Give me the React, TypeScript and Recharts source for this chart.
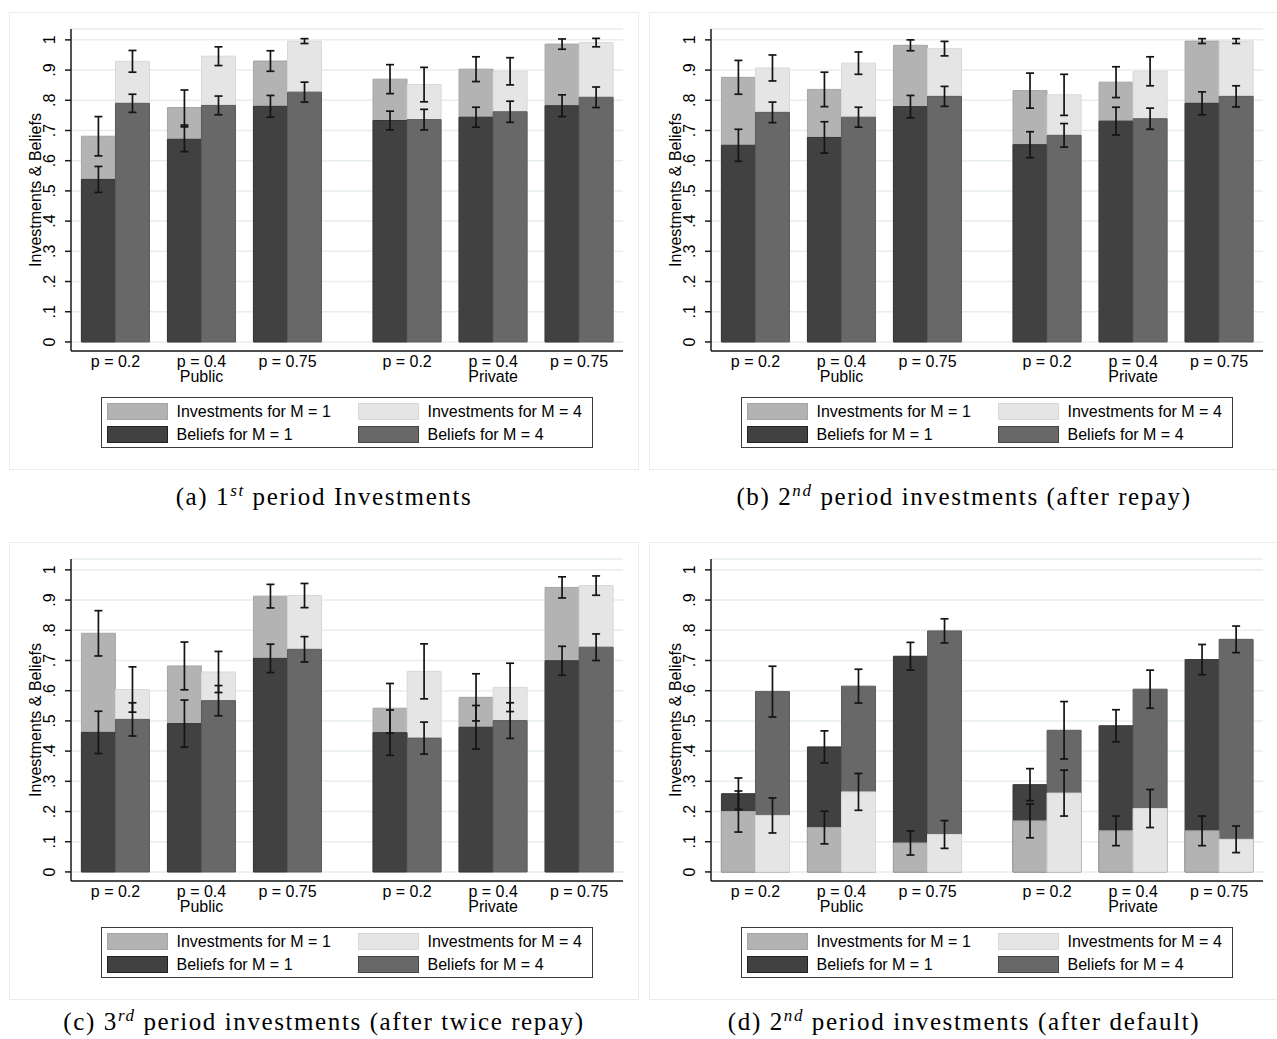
import React from 'react';
import { BarChart, Bar, XAxis, YAxis, CartesianGrid, ErrorBar, Cell, Legend } from 'recharts';

const P_LABELS = ['p = 0.2', 'p = 0.4', 'p = 0.75', 'p = 0.2', 'p = 0.4', 'p = 0.75'];
const TREATMENT_LABELS = ['', 'Public', '', '', 'Private', ''];
const Y_TICKS = [0, 0.1, 0.2, 0.3, 0.4, 0.5, 0.6, 0.7, 0.8, 0.9, 1];
const LEGEND_LABELS = ['Investments for M = 1', 'Investments for M = 4', 'Beliefs for M = 1', 'Beliefs for M = 4'];

// (a) 1st period investments
const A_INV_M1 = [0.681, 0.776, 0.93, 0.87, 0.903, 0.986];
const A_INV_M1_ERR = [0.065, 0.058, 0.034, 0.048, 0.041, 0.017];
const A_BEL_M1 = [0.538, 0.671, 0.78, 0.733, 0.744, 0.782];
const A_BEL_M1_ERR = [0.043, 0.041, 0.036, 0.031, 0.033, 0.036];
const A_INV_M4 = [0.929, 0.946, 0.996, 0.852, 0.896, 0.991];
const A_INV_M4_ERR = [0.036, 0.031, 0.008, 0.057, 0.045, 0.014];
const A_BEL_M4 = [0.79, 0.783, 0.827, 0.736, 0.762, 0.81];
const A_BEL_M4_ERR = [0.03, 0.031, 0.033, 0.034, 0.035, 0.034];

// (b) 2nd period, after repay
const B_INV_M1 = [0.876, 0.836, 0.982, 0.832, 0.86, 0.996];
const B_INV_M1_ERR = [0.056, 0.057, 0.018, 0.058, 0.051, 0.008];
const B_BEL_M1 = [0.651, 0.677, 0.779, 0.653, 0.731, 0.79];
const B_BEL_M1_ERR = [0.053, 0.052, 0.037, 0.043, 0.046, 0.038];
const B_INV_M4 = [0.907, 0.923, 0.971, 0.818, 0.896, 0.996];
const B_INV_M4_ERR = [0.043, 0.037, 0.024, 0.068, 0.048, 0.008];
const B_BEL_M4 = [0.76, 0.744, 0.813, 0.684, 0.739, 0.813];
const B_BEL_M4_ERR = [0.034, 0.033, 0.033, 0.039, 0.035, 0.035];

// (c) 3rd period, after twice repay
const C_INV_M1 = [0.79, 0.682, 0.913, 0.542, 0.578, 0.942];
const C_INV_M1_ERR = [0.075, 0.079, 0.039, 0.082, 0.078, 0.035];
const C_BEL_M1 = [0.462, 0.491, 0.707, 0.461, 0.479, 0.699];
const C_BEL_M1_ERR = [0.07, 0.078, 0.047, 0.075, 0.072, 0.048];
const C_INV_M4 = [0.604, 0.662, 0.915, 0.664, 0.611, 0.948];
const C_INV_M4_ERR = [0.075, 0.068, 0.04, 0.091, 0.08, 0.032];
const C_BEL_M4 = [0.505, 0.567, 0.737, 0.443, 0.501, 0.744];
const C_BEL_M4_ERR = [0.055, 0.05, 0.042, 0.053, 0.059, 0.044];

// (d) 2nd period, after default
const D_INV_M1 = [0.2, 0.147, 0.096, 0.169, 0.136, 0.136];
const D_INV_M1_ERR = [0.068, 0.054, 0.04, 0.056, 0.049, 0.049];
const D_BEL_M1 = [0.259, 0.414, 0.714, 0.289, 0.484, 0.703];
const D_BEL_M1_ERR = [0.052, 0.053, 0.046, 0.053, 0.053, 0.05];
const D_INV_M4 = [0.187, 0.265, 0.124, 0.261, 0.21, 0.108];
const D_INV_M4_ERR = [0.058, 0.061, 0.046, 0.076, 0.063, 0.044];
const D_BEL_M4 = [0.597, 0.615, 0.798, 0.469, 0.605, 0.77];
const D_BEL_M4_ERR = [0.084, 0.056, 0.04, 0.095, 0.063, 0.044];

// where each p-group sits on the numeric x axis (private block is pushed right)
const CATEGORY_X = [0, 1, 2, 3.39, 4.39, 5.39];
const HALF = 0.198;

const FILLS: Record<string, Record<number, string>> = {
  inv: { 1: '#b3b3b3', 4: '#e5e5e5' },
  bel: { 1: '#414141', 4: '#686868' },
};
const STROKES: Record<string, Record<number, string>> = {
  inv: { 1: '#a5a5a5', 4: '#d8d8d8' },
  bel: { 1: '#353535', 4: '#5c5c5c' },
};
const GRID = '#e6eeee';
const FONT = '"Liberation Sans", Arial, sans-serif';
const BAR_W = 34;

function buildRows(
  inv1: number[], inv1Err: number[], bel1: number[], bel1Err: number[],
  inv4: number[], inv4Err: number[], bel4: number[], bel4Err: number[]
) {
  const rows: any[] = [];
  CATEGORY_X.forEach((cx, i) => {
    rows.push({ x: cx - HALF, m: 1, inv: inv1[i], invErr: inv1Err[i], bel: bel1[i], belErr: bel1Err[i] });
    rows.push({ x: cx + HALF, m: 4, inv: inv4[i], invErr: inv4Err[i], bel: bel4[i], belErr: bel4Err[i] });
  });
  return rows;
}

function YTick(props: any) {
  const { x, y, payload } = props;
  const v = payload.value;
  const label = v === 0 ? '0' : v === 1 ? '1' : '.' + Math.round(v * 10);
  return (
    <text x={x} y={y} transform={`rotate(-90 ${x} ${y})`} textAnchor="middle" dominantBaseline="central"
      fontFamily={FONT} fontSize={16} fill="#000">
      {label}
    </text>
  );
}

function XTick(props: any) {
  const { x, y, index } = props;
  return (
    <g>
      <text x={x} y={y + 16} textAnchor="middle" fontFamily={FONT} fontSize={16} fill="#000">
        {P_LABELS[index]}
      </text>
      {TREATMENT_LABELS[index] && (
        <text x={x} y={y + 31} textAnchor="middle" fontFamily={FONT} fontSize={16} fill="#000">
          {TREATMENT_LABELS[index]}
        </text>
      )}
    </g>
  );
}

function YLabel() {
  return (
    <text x={26} y={178} transform="rotate(-90 26 178)" textAnchor="middle" dominantBaseline="central"
      fontFamily={FONT} fontSize={16} fill="#000">
      Investments &amp; Beliefs
    </text>
  );
}

function LegendBox() {
  const swatches = [FILLS.inv[1], FILLS.inv[4], FILLS.bel[1], FILLS.bel[4]];
  const edges = [STROKES.inv[1], STROKES.inv[4], '#222', '#444'];
  return (
    <div style={{ width: 492, height: 51, border: '1.5px solid #3a3a3a', boxSizing: 'border-box', position: 'relative', background: '#fff' }}>
      {LEGEND_LABELS.map((label, i) => {
        const col = i % 2;
        const row = Math.floor(i / 2);
        return (
          <div key={label} style={{ position: 'absolute', left: col ? 255.5 : 4.5, top: row ? 27.5 : 4.5, display: 'flex', alignItems: 'center', height: 17 }}>
            <span style={{ display: 'inline-block', width: 61, height: 17, background: swatches[i], border: `1px solid ${edges[i]}`, boxSizing: 'border-box' }} />
            <span style={{ marginLeft: 9, fontFamily: FONT, fontSize: 16, lineHeight: '17px', color: '#000', whiteSpace: 'nowrap' }}>{label}</span>
          </div>
        );
      })}
    </div>
  );
}

function Panel({ rows, beliefsFirst }: { rows: any[]; beliefsFirst: boolean }) {
  const order = beliefsFirst ? ['bel', 'inv'] : ['inv', 'bel'];
  return (
    <BarChart width={630} height={458} data={rows} margin={{ top: 17, right: 16, left: 22, bottom: 79 }} barGap={-BAR_W}>
      <CartesianGrid vertical={false} stroke={GRID} strokeWidth={1.5} />
      <XAxis dataKey="x" type="number" domain={[-0.517, 5.9]} allowDataOverflow ticks={CATEGORY_X} interval={0}
        tickLine={false} tickSize={0} tickMargin={0} height={40} tick={<XTick />} stroke="#1a1a1a" strokeWidth={1.5} />
      <YAxis type="number" domain={[-0.03, 1.036]} allowDataOverflow ticks={Y_TICKS} interval={0} width={40}
        tickSize={6} tickMargin={15} tick={<YTick />} stroke="#1a1a1a" strokeWidth={1.5} label={<YLabel />} />
      {order.map((k) => (
        <Bar key={k} dataKey={k} barSize={BAR_W} isAnimationActive={false} legendType="none">
          {rows.map((r, i) => (
            <Cell key={i} fill={FILLS[k][r.m]} stroke={STROKES[k][r.m]} strokeWidth={1} />
          ))}
        </Bar>
      ))}
      {order.map((k) => (
        <Bar key={k + '-err'} dataKey={k} barSize={BAR_W} fill="transparent" isAnimationActive={false} legendType="none">
          <ErrorBar dataKey={k + 'Err'} width={4} stroke="#141414" strokeWidth={1.7} isAnimationActive={false} />
        </Bar>
      ))}
      <Legend content={<LegendBox />} layout="vertical" align="center" verticalAlign="middle"
        wrapperStyle={{ left: 92, top: 385, width: 492, height: 51 }} />
    </BarChart>
  );
}

function Caption({ left, top, tag, ord, sup, rest }: any) {
  return (
    <div style={{ position: 'absolute', left, top, width: 630, textAlign: 'center', fontFamily: '"Liberation Serif", "Times New Roman", serif', fontSize: 25, lineHeight: '30px', letterSpacing: 1.6, color: '#000', whiteSpace: 'nowrap' }}>
      ({tag}) {ord}
      <span style={{ fontSize: '0.68em', fontStyle: 'italic', position: 'relative', top: '-0.55em' }}>{sup}</span> {rest}
    </div>
  );
}

const panelStyle = (left: number, top: number): React.CSSProperties => ({
  position: 'absolute', left, top, width: 630, height: 458, outline: `1.5px solid ${GRID}`, outlineOffset: -1.5, background: '#fff',
});

export default function App() {
  const rowsA = buildRows(A_INV_M1, A_INV_M1_ERR, A_BEL_M1, A_BEL_M1_ERR, A_INV_M4, A_INV_M4_ERR, A_BEL_M4, A_BEL_M4_ERR);
  const rowsB = buildRows(B_INV_M1, B_INV_M1_ERR, B_BEL_M1, B_BEL_M1_ERR, B_INV_M4, B_INV_M4_ERR, B_BEL_M4, B_BEL_M4_ERR);
  const rowsC = buildRows(C_INV_M1, C_INV_M1_ERR, C_BEL_M1, C_BEL_M1_ERR, C_INV_M4, C_INV_M4_ERR, C_BEL_M4, C_BEL_M4_ERR);
  const rowsD = buildRows(D_INV_M1, D_INV_M1_ERR, D_BEL_M1, D_BEL_M1_ERR, D_INV_M4, D_INV_M4_ERR, D_BEL_M4, D_BEL_M4_ERR);

  return (
    <div style={{ position: 'absolute', left: 0, top: 0, width: 1277, height: 1039, overflow: 'hidden', background: '#fff' }}>
      <div style={panelStyle(9, 12)}><Panel rows={rowsA} beliefsFirst={false} /></div>
      <div style={panelStyle(649, 12)}><Panel rows={rowsB} beliefsFirst={false} /></div>
      <div style={panelStyle(9, 542)}><Panel rows={rowsC} beliefsFirst={false} /></div>
      <div style={panelStyle(649, 542)}><Panel rows={rowsD} beliefsFirst={true} /></div>

      <Caption left={9} top={482} tag="a" ord="1" sup="st" rest="period Investments" />
      <Caption left={649} top={482} tag="b" ord="2" sup="nd" rest="period investments (after repay)" />
      <Caption left={9} top={1007} tag="c" ord="3" sup="rd" rest="period investments (after twice repay)" />
      <Caption left={649} top={1007} tag="d" ord="2" sup="nd" rest="period investments (after default)" />
    </div>
  );
}
